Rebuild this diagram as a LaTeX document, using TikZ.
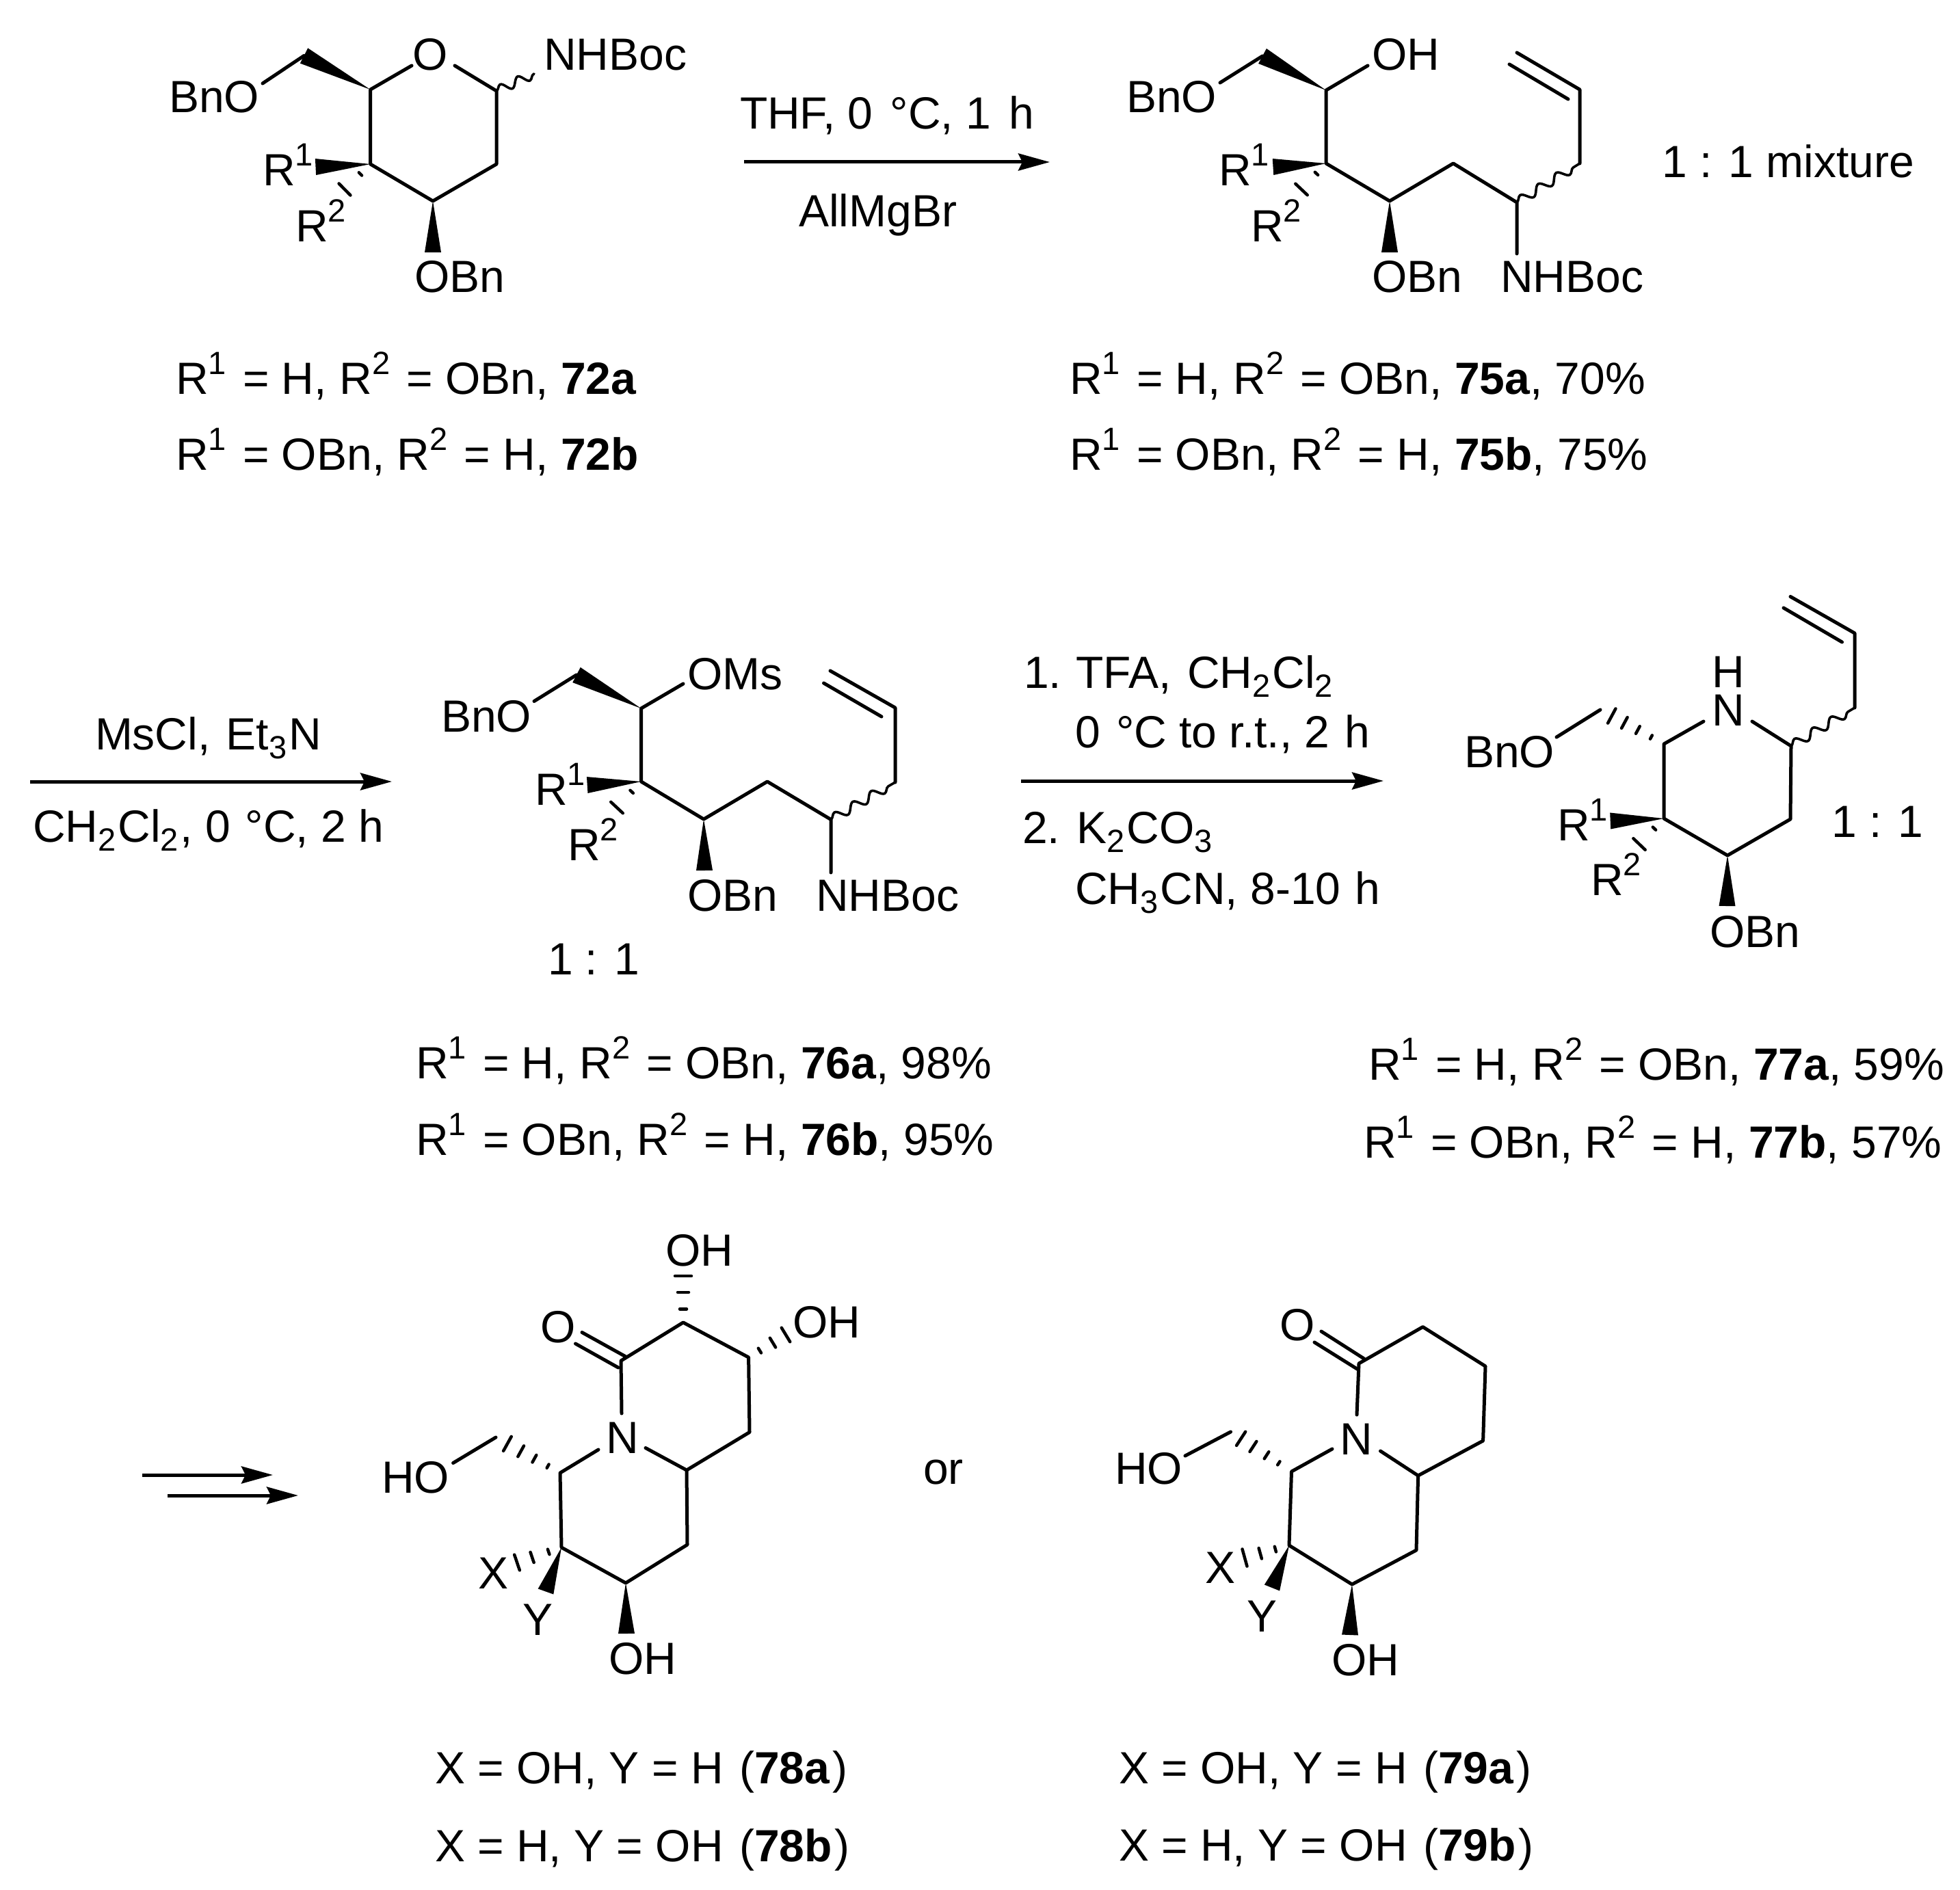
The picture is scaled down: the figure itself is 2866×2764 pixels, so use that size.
\documentclass[tikz,border=0pt]{standalone}
\usepackage{fontspec}
\setmainfont{Liberation Sans}
\usetikzlibrary{calc,arrows.meta,decorations.pathmorphing}
\newcommand\smallsz{\fontsize{47}{50}\selectfont}
\newcommand\Rn[1]{R\raisebox{29pt}{\smallsz #1}\hspace{6pt}}
\newcommand\sbs[1]{\raisebox{-13pt}{\smallsz #1}\hspace{3pt}}
\newcommand\wdg[3]{\fill (#1) -- ($(#2)!#3pt!90:(#1)$) -- ($(#2)!#3pt!-90:(#1)$) -- cycle;}
\newcommand\hsh[3]{\foreach \hT/\hW in {#3} {\draw[hashstroke] ($(#1)!\hT!(#2)!\hW pt!90:(#1)$) -- ($(#1)!\hT!(#2)!\hW pt!-90:(#1)$);}}
\tikzset{
  lab/.style={anchor=base west,inner sep=0pt,outer sep=0pt,font=\fontsize{66}{72}\selectfont},
  bond/.style={line width=5pt,line cap=round,line join=round},
  hashstroke/.style={line width=4.5pt,line cap=round},
  wavy/.style={line width=3.6pt,line cap=round,decorate,decoration={snake,segment length=#1,amplitude=6.5pt}},
  rxn/.style={line width=5pt,-{Stealth[length=46pt,width=25pt,inset=6pt]}}
}
\begin{document}
\begin{tikzpicture}[x=1pt,y=-1pt]
\useasboundingbox (0,0) rectangle (2866,2764);
\fill[white] (0,0) rectangle (2866,2764);

% --- compound 72 ---
\coordinate (a1) at (541.6,131); \coordinate (a1o) at (602,96); \coordinate (a2o) at (665,96);
\coordinate (a2) at (726,133); \coordinate (a3) at (726,240); \coordinate (a4) at (633,294);
\coordinate (a5) at (541.6,240); \coordinate (a6) at (444.5,81.5); \coordinate (a6o) at (384,122);
\coordinate (a7) at (633,369); \coordinate (a8) at (461.5,244); \coordinate (a9) at (504,277);
\coordinate (a10) at (781,108);
\node[lab] (aBnO) at (247,165) {BnO};
\node[lab] (aO) at (603,103) {O};
\node[lab] (aNHBoc) at (795,103) {NHBoc};
\node[lab] (aR1) at (384,272) {\Rn{1}};
\node[lab] (aR2) at (432,353) {\Rn{2}};
\node[lab] (aOBn) at (606,427) {OBn};
\draw[bond] (a1o) -- (a1) -- (a5) -- (a4) -- (a3) -- (a2) -- (a2o);
\draw[bond] (a6) -- (a6o);
\wdg{a1}{a6}{12.5}
\wdg{a4}{a7}{12}
\wdg{a5}{a8}{12}
\hsh{a5}{a9}{.39/3,1/12}
\draw[wavy=28pt] (a2) -- (a10);
\node[lab] (t72a) at (257,576) {\Rn{1} = H, \Rn{2} = OBn, \textbf{72a}};
\node[lab] (t72b) at (257,687) {\Rn{1} = OBn, \Rn{2} = H, \textbf{72b}};

% --- arrow 1 ---
\coordinate (r1s) at (1088,237); \coordinate (r1e) at (1535,237);
\draw[rxn] (r1s) -- (r1e);
\node[lab] (r1t) at (1082,189) {THF, 0\hspace{7pt} °C, 1\hspace{8pt} h};
\node[lab] (r1b) at (1168,331) {AllMgBr};

% --- compound 75 ---
\coordinate (b1) at (1939,132); \coordinate (b1o) at (2000,96); \coordinate (b2) at (1846,82);
\coordinate (b2o) at (1784,121); \coordinate (b3) at (1939,239); \coordinate (b4) at (2032,294);
\coordinate (b5) at (2125,239); \coordinate (b6) at (2218,296); \coordinate (b6n) at (2218,371);
\coordinate (b7) at (2310,239); \coordinate (b8) at (2310,131); \coordinate (b9) at (2218,77);
\coordinate (b10) at (2293,145); \coordinate (b11) at (2207,94); \coordinate (b12) at (2032,369);
\coordinate (b13) at (1861.5,244); \coordinate (b14) at (1903,277);
\node[lab] (bBnO) at (1647,165) {BnO};
\node[lab] (bOH) at (2006,103) {OH};
\node[lab] (bR1) at (1782,272) {\Rn{1}};
\node[lab] (bR2) at (1829,353) {\Rn{2}};
\node[lab] (bOBn) at (2006,427) {OBn};
\node[lab] (bNHBoc) at (2194,427) {NHBoc};
\node[lab] (bmix) at (2430,260) {1 : 1 mixture};
\draw[bond] (b1o) -- (b1) -- (b3) -- (b4) -- (b5) -- (b6) -- (b6n);
\draw[bond] (b2) -- (b2o);
\draw[bond] (b7) -- (b8) -- (b9);
\draw[bond] (b10) -- (b11);
\wdg{b1}{b2}{12.5}
\wdg{b3}{b13}{12}
\wdg{b4}{b12}{12}
\hsh{b3}{b14}{.39/3,1/12}
\draw[wavy=31pt] (b6) -- (b7);
\node[lab] (t75a) at (1564,576) {\Rn{1} = H, \Rn{2} = OBn, \textbf{75a}, 70\%};
\node[lab] (t75b) at (1564,687) {\Rn{1} = OBn, \Rn{2} = H, \textbf{75b}, 75\%};

% --- arrow 2 ---
\coordinate (r2s) at (44,1143); \coordinate (r2e) at (573,1143);
\draw[rxn] (r2s) -- (r2e);
\node[lab] (r2t) at (139,1096) {MsCl,\hspace{5pt} Et\sbs{3}N};
\node[lab] (r2b) at (48,1231) {CH\sbs{2}Cl\sbs{2}, 0\hspace{3pt} °C, 2 h};

% --- compound 76 ---
\coordinate (c1) at (937.5,1036); \coordinate (c1o) at (999,1000); \coordinate (c2) at (843,987);
\coordinate (c2o) at (781,1025.5); \coordinate (c3) at (937.5,1143); \coordinate (c4) at (1029,1198);
\coordinate (c5) at (1122,1143); \coordinate (c6) at (1215,1198.5); \coordinate (c6n) at (1215,1276);
\coordinate (c7) at (1309,1144); \coordinate (c8) at (1309,1035); \coordinate (c9) at (1214,981);
\coordinate (c10) at (1289,1048); \coordinate (c11) at (1204.5,999); \coordinate (c12) at (1030,1273);
\coordinate (c13) at (858.7,1148); \coordinate (c14) at (902,1181);
\node[lab] (cBnO) at (645,1070) {BnO};
\node[lab] (cOMs) at (1005,1008) {OMs};
\node[lab] (cR1) at (782,1177) {\Rn{1}};
\node[lab] (cR2) at (830,1258) {\Rn{2}};
\node[lab] (cOBn) at (1005,1332) {OBn};
\node[lab] (cNHBoc) at (1193,1332) {NHBoc};
\node[lab] (cmix) at (801,1425) {1 : 1};
\draw[bond] (c1o) -- (c1) -- (c3) -- (c4) -- (c5) -- (c6) -- (c6n);
\draw[bond] (c2) -- (c2o);
\draw[bond] (c7) -- (c8) -- (c9);
\draw[bond] (c10) -- (c11);
\wdg{c1}{c2}{12.5}
\wdg{c3}{c13}{12}
\wdg{c4}{c12}{12}
\hsh{c3}{c14}{.39/3,1/12}
\draw[wavy=31pt] (c6) -- (c7);
\node[lab] (t76a) at (608,1577) {\Rn{1} = H, \Rn{2} = OBn, \textbf{76a}, 98\%};
\node[lab] (t76b) at (608,1689) {\Rn{1} = OBn, \Rn{2} = H, \textbf{76b}, 95\%};

% --- arrow 3 ---
\coordinate (r3s) at (1493,1142); \coordinate (r3e) at (2023,1142);
\draw[rxn] (r3s) -- (r3e);
\node[lab] (r3a) at (1497,1006) {1.\hspace{-3pt} TFA,\hspace{5pt} CH\sbs{2}Cl\sbs{2}};
\node[lab] (r3b) at (1572,1093) {0\hspace{5pt} °C to r.t., 2\hspace{4pt} h};
\node[lab] (r3c) at (1495,1233) {2. K\sbs{2}CO\sbs{3}};
\node[lab] (r3d) at (1572,1322) {CH\sbs{3}CN, 8-10\hspace{3pt} h};

% --- compound 77 ---
\coordinate (d1) at (2433,1088); \coordinate (d1n) at (2491,1055); \coordinate (d6n) at (2562,1055);
\coordinate (d6) at (2619,1091); \coordinate (d5) at (2618,1198); \coordinate (d4) at (2526,1251);
\coordinate (d3) at (2433,1197); \coordinate (d7) at (2340,1038); \coordinate (d7o) at (2276,1078);
\coordinate (d8) at (2712,1035); \coordinate (d9) at (2712,926); \coordinate (d10) at (2618,872.5);
\coordinate (d11) at (2693.5,939); \coordinate (d12) at (2608,889); \coordinate (d13) at (2525.5,1325);
\coordinate (d14) at (2354.7,1200.5); \coordinate (d15) at (2397,1234.5);
\node[lab] (dH) at (2503,1005) {H};
\node[lab] (dN) at (2503,1061) {N};
\node[lab] (dBnO) at (2141,1122) {BnO};
\node[lab] (dR1) at (2277,1229) {\Rn{1}};
\node[lab] (dR2) at (2326,1309) {\Rn{2}};
\node[lab] (dOBn) at (2500,1385) {OBn};
\node[lab] (dmix) at (2678,1224) {1 : 1};
\draw[bond] (d1n) -- (d1) -- (d3) -- (d4) -- (d5) -- (d6) -- (d6n);
\draw[bond] (d7) -- (d7o);
\draw[bond] (d8) -- (d9) -- (d10);
\draw[bond] (d11) -- (d12);
\hsh{d1}{d7}{.2/3,.41/6,.62/9,.82/12}
\wdg{d3}{d14}{12}
\wdg{d4}{d13}{12}
\hsh{d3}{d15}{.39/3,1/12}
\draw[wavy=31pt] (d6) -- (d8);
\node[lab] (t77a) at (2001,1579) {\Rn{1} = H, \Rn{2} = OBn, \textbf{77a}, 59\%};
\node[lab] (t77b) at (1994,1693) {\Rn{1} = OBn, \Rn{2} = H, \textbf{77b}, 57\%};

% --- double arrow ---
\coordinate (r4s) at (208,2157); \coordinate (r4e) at (399,2157);
\coordinate (r5s) at (245,2187); \coordinate (r5e) at (436,2187);
\draw[rxn] (r4s) -- (r4e);
\draw[rxn] (r5s) -- (r5e);

% --- compound 78 ---
\coordinate (e1) at (908,1990); \coordinate (e2) at (999,1934); \coordinate (e3) at (1094.6,1985);
\coordinate (e4) at (1096,2094.5); \coordinate (e5) at (1004,2150); \coordinate (e5n) at (944,2117.5);
\coordinate (e1n) at (909,2067); \coordinate (e6n) at (875,2120); \coordinate (e6) at (819,2154);
\coordinate (e7) at (821,2263); \coordinate (e8) at (915,2315); \coordinate (e9) at (1005,2259);
\coordinate (e10) at (915,1984); \coordinate (e11) at (851,1948.5); \coordinate (e12) at (904,2000);
\coordinate (e13) at (841.5,1965); \coordinate (e14) at (999,1866); \coordinate (e15) at (1149,1952);
\coordinate (e16) at (725,2102); \coordinate (e17) at (662.6,2139.5); \coordinate (e18) at (756,2285);
\coordinate (e19) at (798,2327.5); \coordinate (e20) at (916,2389);
\node[lab] (eO) at (790,1963) {O};
\node[lab] (eN) at (886,2125) {N};
\node[lab] (eOH1) at (973,1851) {OH};
\node[lab] (eOH2) at (1159,1956) {OH};
\node[lab] (eHO) at (558,2183) {HO};
\node[lab] (eX) at (699,2323) {X};
\node[lab] (eY) at (764,2391) {Y};
\node[lab] (eOH3) at (890,2448) {OH};
\draw[bond] (e1n) -- (e1) -- (e2) -- (e3) -- (e4) -- (e5) -- (e5n);
\draw[bond] (e5) -- (e9) -- (e8) -- (e7) -- (e6) -- (e6n);
\draw[bond] (e10) -- (e11);
\draw[bond] (e12) -- (e13);
\draw[bond] (e16) -- (e17);
\hsh{e2}{e14}{.29/5,.65/8,1/12}
\hsh{e3}{e15}{.3/4,.65/8,1/12}
\hsh{e6}{e16}{.19/3,.40/6,.61/9,.82/12}
\hsh{e7}{e18}{.29/4,.66/8,1/12}
\wdg{e7}{e19}{12}
\wdg{e8}{e20}{12}
\node[lab] (tor) at (1350,2170) {or};
\node[lab] (t78a) at (636,2608) {X = OH, Y = H\hspace{5pt} (\textbf{78a}\hspace{4pt})};
\node[lab] (t78b) at (636,2722) {X = H, Y = OH\hspace{5pt} (\textbf{78b}\hspace{4pt})};

% --- compound 79 ---
\coordinate (f1) at (1987,1994); \coordinate (f2) at (2080.5,1940.5); \coordinate (f3) at (2172,1998);
\coordinate (f4) at (2168.6,2107); \coordinate (f5) at (2073.6,2158); \coordinate (f6) at (2071,2267);
\coordinate (f7) at (1977,2317); \coordinate (f8) at (1885,2260); \coordinate (f9) at (1888.5,2152);
\coordinate (f1n) at (1984,2069); \coordinate (f5n) at (2018.5,2122); \coordinate (f9n) at (1948,2119);
\coordinate (f10) at (1994.6,1987); \coordinate (f11) at (1932,1947); \coordinate (f12) at (1986,2003);
\coordinate (f13) at (1922,1963); \coordinate (f14) at (1799.5,2094); \coordinate (f15) at (1733,2129);
\coordinate (f16) at (1820,2278); \coordinate (f17) at (1860,2322); \coordinate (f18) at (1974,2391);
\node[lab] (fO) at (1871,1960) {O};
\node[lab] (fN) at (1959,2127) {N};
\node[lab] (fHO) at (1630,2170) {HO};
\node[lab] (fX) at (1762,2315) {X};
\node[lab] (fY) at (1823,2386) {Y};
\node[lab] (fOH) at (1947,2450) {OH};
\draw[bond] (f1n) -- (f1) -- (f2) -- (f3) -- (f4) -- (f5) -- (f5n);
\draw[bond] (f5) -- (f6) -- (f7) -- (f8) -- (f9) -- (f9n);
\draw[bond] (f10) -- (f11);
\draw[bond] (f12) -- (f13);
\draw[bond] (f14) -- (f15);
\hsh{f9}{f14}{.21/3,.41/6,.63/9,.83/12}
\hsh{f8}{f16}{.31/4,.65/8,1/13}
\wdg{f8}{f17}{12}
\wdg{f7}{f18}{12}
\node[lab] (t79a) at (1636,2608) {X = OH, Y = H\hspace{5pt} (\textbf{79a}\hspace{4pt})};
\node[lab] (t79b) at (1636,2721) {X = H, Y = OH\hspace{5pt} (\textbf{79b}\hspace{4pt})};
\end{tikzpicture}
\end{document}
